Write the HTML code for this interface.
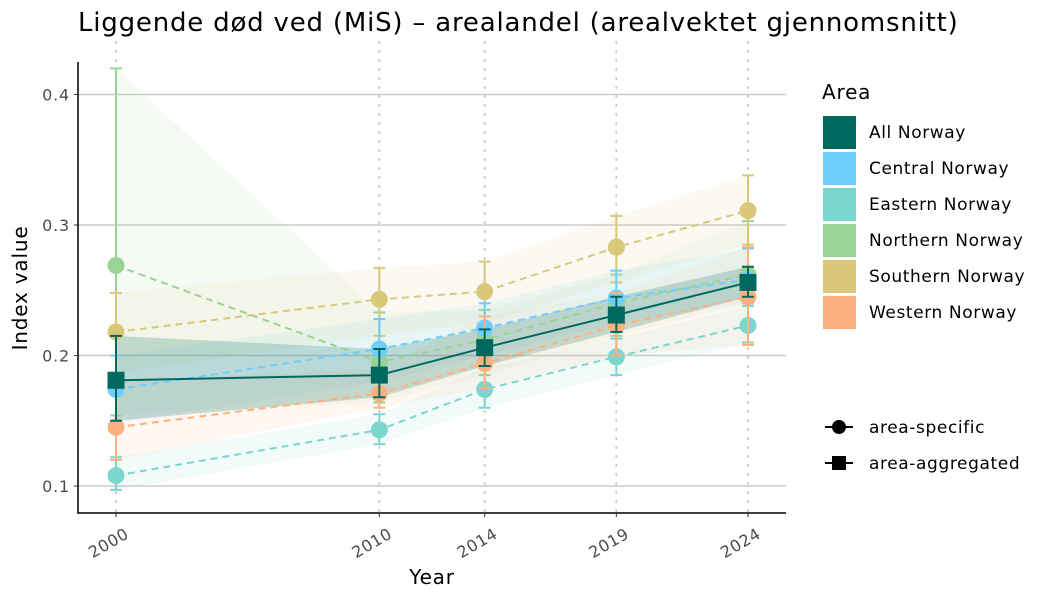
<!DOCTYPE html>
<html><head><meta charset="utf-8"><style>
body{margin:0;background:#fff;font-family:"DejaVu Sans","Liberation Sans",sans-serif}
svg text{font-family:"DejaVu Sans","Liberation Sans",sans-serif}
</style></head><body>
<svg id="chart" width="1050" height="600" xmlns="http://www.w3.org/2000/svg">
<text x="78" y="31" font-size="26" letter-spacing="0.8" fill="#000">Liggende død ved (MiS) – arealandel (arealvektet gjennomsnitt)</text>
<g id="grid"></g><g id="ribbons"></g><g id="lines"></g><g id="axes"></g><g id="legend"></g>
</svg>
<script>
const years=[2000,2010,2014,2019,2024];
const yTicks=[0.1,0.2,0.3,0.4];
const names=["All Norway","Central Norway","Eastern Norway","Northern Norway","Southern Norway","Western Norway"];
const colors=["#00695f","#6ecfff","#7bd6cd","#9ad494","#d9c87a","#ffb07f"];
const allV=[0.181,0.185,0.206,0.231,0.256],allLo=[0.150,0.168,0.192,0.218,0.245],allHi=[0.215,0.205,0.220,0.245,0.268];
const cenV=[0.174,0.205,0.221,0.244,0.258],cenLo=[0.148,0.180,0.200,0.225,0.240],cenHi=[0.200,0.228,0.240,0.265,0.282];
const eastV=[0.108,0.143,0.174,0.199,0.223],eastLo=[0.097,0.132,0.160,0.185,0.210],eastHi=[0.122,0.155,0.190,0.213,0.238];
const northV=[0.269,0.195,0.212,0.240,0.262],northLo=[0.154,0.164,0.185,0.215,0.240],northHi=[0.420,0.233,0.235,0.262,0.303];
const southV=[0.218,0.243,0.249,0.283,0.311],southLo=[0.187,0.215,0.225,0.256,0.285],southHi=[0.248,0.267,0.272,0.307,0.338];
const westV=[0.145,0.171,0.194,0.223,0.245],westLo=[0.120,0.160,0.175,0.200,0.208],westHi=[0.180,0.190,0.230,0.248,0.283];
const vals=[allV,cenV,eastV,northV,southV,westV],los=[allLo,cenLo,eastLo,northLo,southLo,westLo],his=[allHi,cenHi,eastHi,northHi,southHi,westHi];
const NS="http://www.w3.org/2000/svg";
const L=78,R=786,T=62,B=513;
const xs=y=>116+(y-2000)*(748-116)/24;
const ys=v=>486-(v-0.1)*1305;
function mk(tag,at,par){const e=document.createElementNS(NS,tag);for(const k in at)e.setAttribute(k,at[k]);document.getElementById(par).appendChild(e);return e;}
yTicks.forEach(t=>{const l=mk('line',{x1:L,x2:R,y1:ys(t),y2:ys(t),stroke:'#cccccc','stroke-width':1.5},'grid');

});
years.forEach(y=>{const l=mk('line',{x1:xs(y),x2:xs(y),y1:T-20,y2:B,stroke:'#c8c8c8','stroke-width':2,'stroke-dasharray':'1 8','stroke-linecap':'round'},'grid');

});
const order=[3,4,1,2,5,0];
order.forEach(i=>{let pts=years.map((y,j)=>xs(y)+','+ys(his[i][j]));pts=pts.concat(years.slice().reverse().map((y,k)=>xs(y)+','+ys(los[i][4-k])));
const p=mk('polygon',{points:pts.join(' '),fill:colors[i],'fill-opacity':i==0?0.2:0.1},'ribbons');

});
order.forEach(i=>{const c=colors[i];
years.forEach((y,j)=>{const x=xs(y);
const e=mk('path',{d:`M${x},${ys(los[i][j])}V${ys(his[i][j])}M${x-6},${ys(los[i][j])}h12M${x-6},${ys(his[i][j])}h12`,stroke:c,'stroke-width':2,fill:'none'},'lines');

});
const ln=mk('polyline',{points:years.map((y,j)=>xs(y)+','+ys(vals[i][j])).join(' '),fill:'none',stroke:c,'stroke-width':2,'stroke-dasharray':i==0?'none':'7 5'},'lines');


years.forEach((y,j)=>{let m;if(i==0)m=mk('rect',{x:xs(y)-8.5,y:ys(vals[i][j])-8.5,width:17,height:17,fill:c},'lines');
else m=mk('circle',{cx:xs(y),cy:ys(vals[i][j]),r:8.5,fill:c},'lines');

});});
let a=mk('path',{d:`M${L},${T}V${B}H${R}`,stroke:'#000','stroke-width':1.5,fill:'none'},'axes');


yTicks.forEach(t=>{mk('line',{x1:L-4,x2:L,y1:ys(t),y2:ys(t),stroke:'#333'},'axes');
const tx=mk('text',{x:L-8,y:ys(t)+6,'text-anchor':'end','font-size':16,'letter-spacing':0.8,fill:'#4d4d4d'},'axes');tx.textContent=t.toFixed(1);

});
years.forEach(y=>{mk('line',{x1:xs(y),x2:xs(y),y1:B,y2:B+4,stroke:'#333'},'axes');
const tx=mk('text',{x:xs(y)+14,y:B+24,'text-anchor':'end','font-size':16,'letter-spacing':0.6,fill:'#4d4d4d',transform:`rotate(-30 ${xs(y)+14} ${B+24})`},'axes');tx.textContent=y;

});
let xt=mk('text',{x:432,y:584,'text-anchor':'middle','font-size':20,'letter-spacing':0.8},'axes');xt.textContent='Year';


let yt=mk('text',{x:27,y:288,'text-anchor':'middle','font-size':20,'letter-spacing':0.8,transform:'rotate(-90 27 288)'},'axes');yt.textContent='Index value';


let lt=mk('text',{x:822,y:99,'font-size':20,'letter-spacing':0.8},'legend');lt.textContent='Area';


names.forEach((n,i)=>{const r=mk('rect',{x:823,y:116+i*36,width:33,height:33,fill:colors[i]},'legend');


const t=mk('text',{x:869,y:138+i*36,'font-size':17,'letter-spacing':0.6},'legend');t.textContent=n;

});
[['area-specific',427,0],['area-aggregated',463,1]].forEach(([n,y,s])=>{mk('line',{x1:825,x2:853,y1:y,y2:y,stroke:'#000','stroke-width':2},'legend');
const m=s?mk('rect',{x:832,y:y-7,width:14,height:14,fill:'#000'},'legend'):mk('circle',{cx:839,cy:y,r:7,fill:'#000'},'legend');


const t=mk('text',{x:869,y:y+6,'font-size':17,'letter-spacing':0.6},'legend');t.textContent=n;

});
</script>
</body></html>
